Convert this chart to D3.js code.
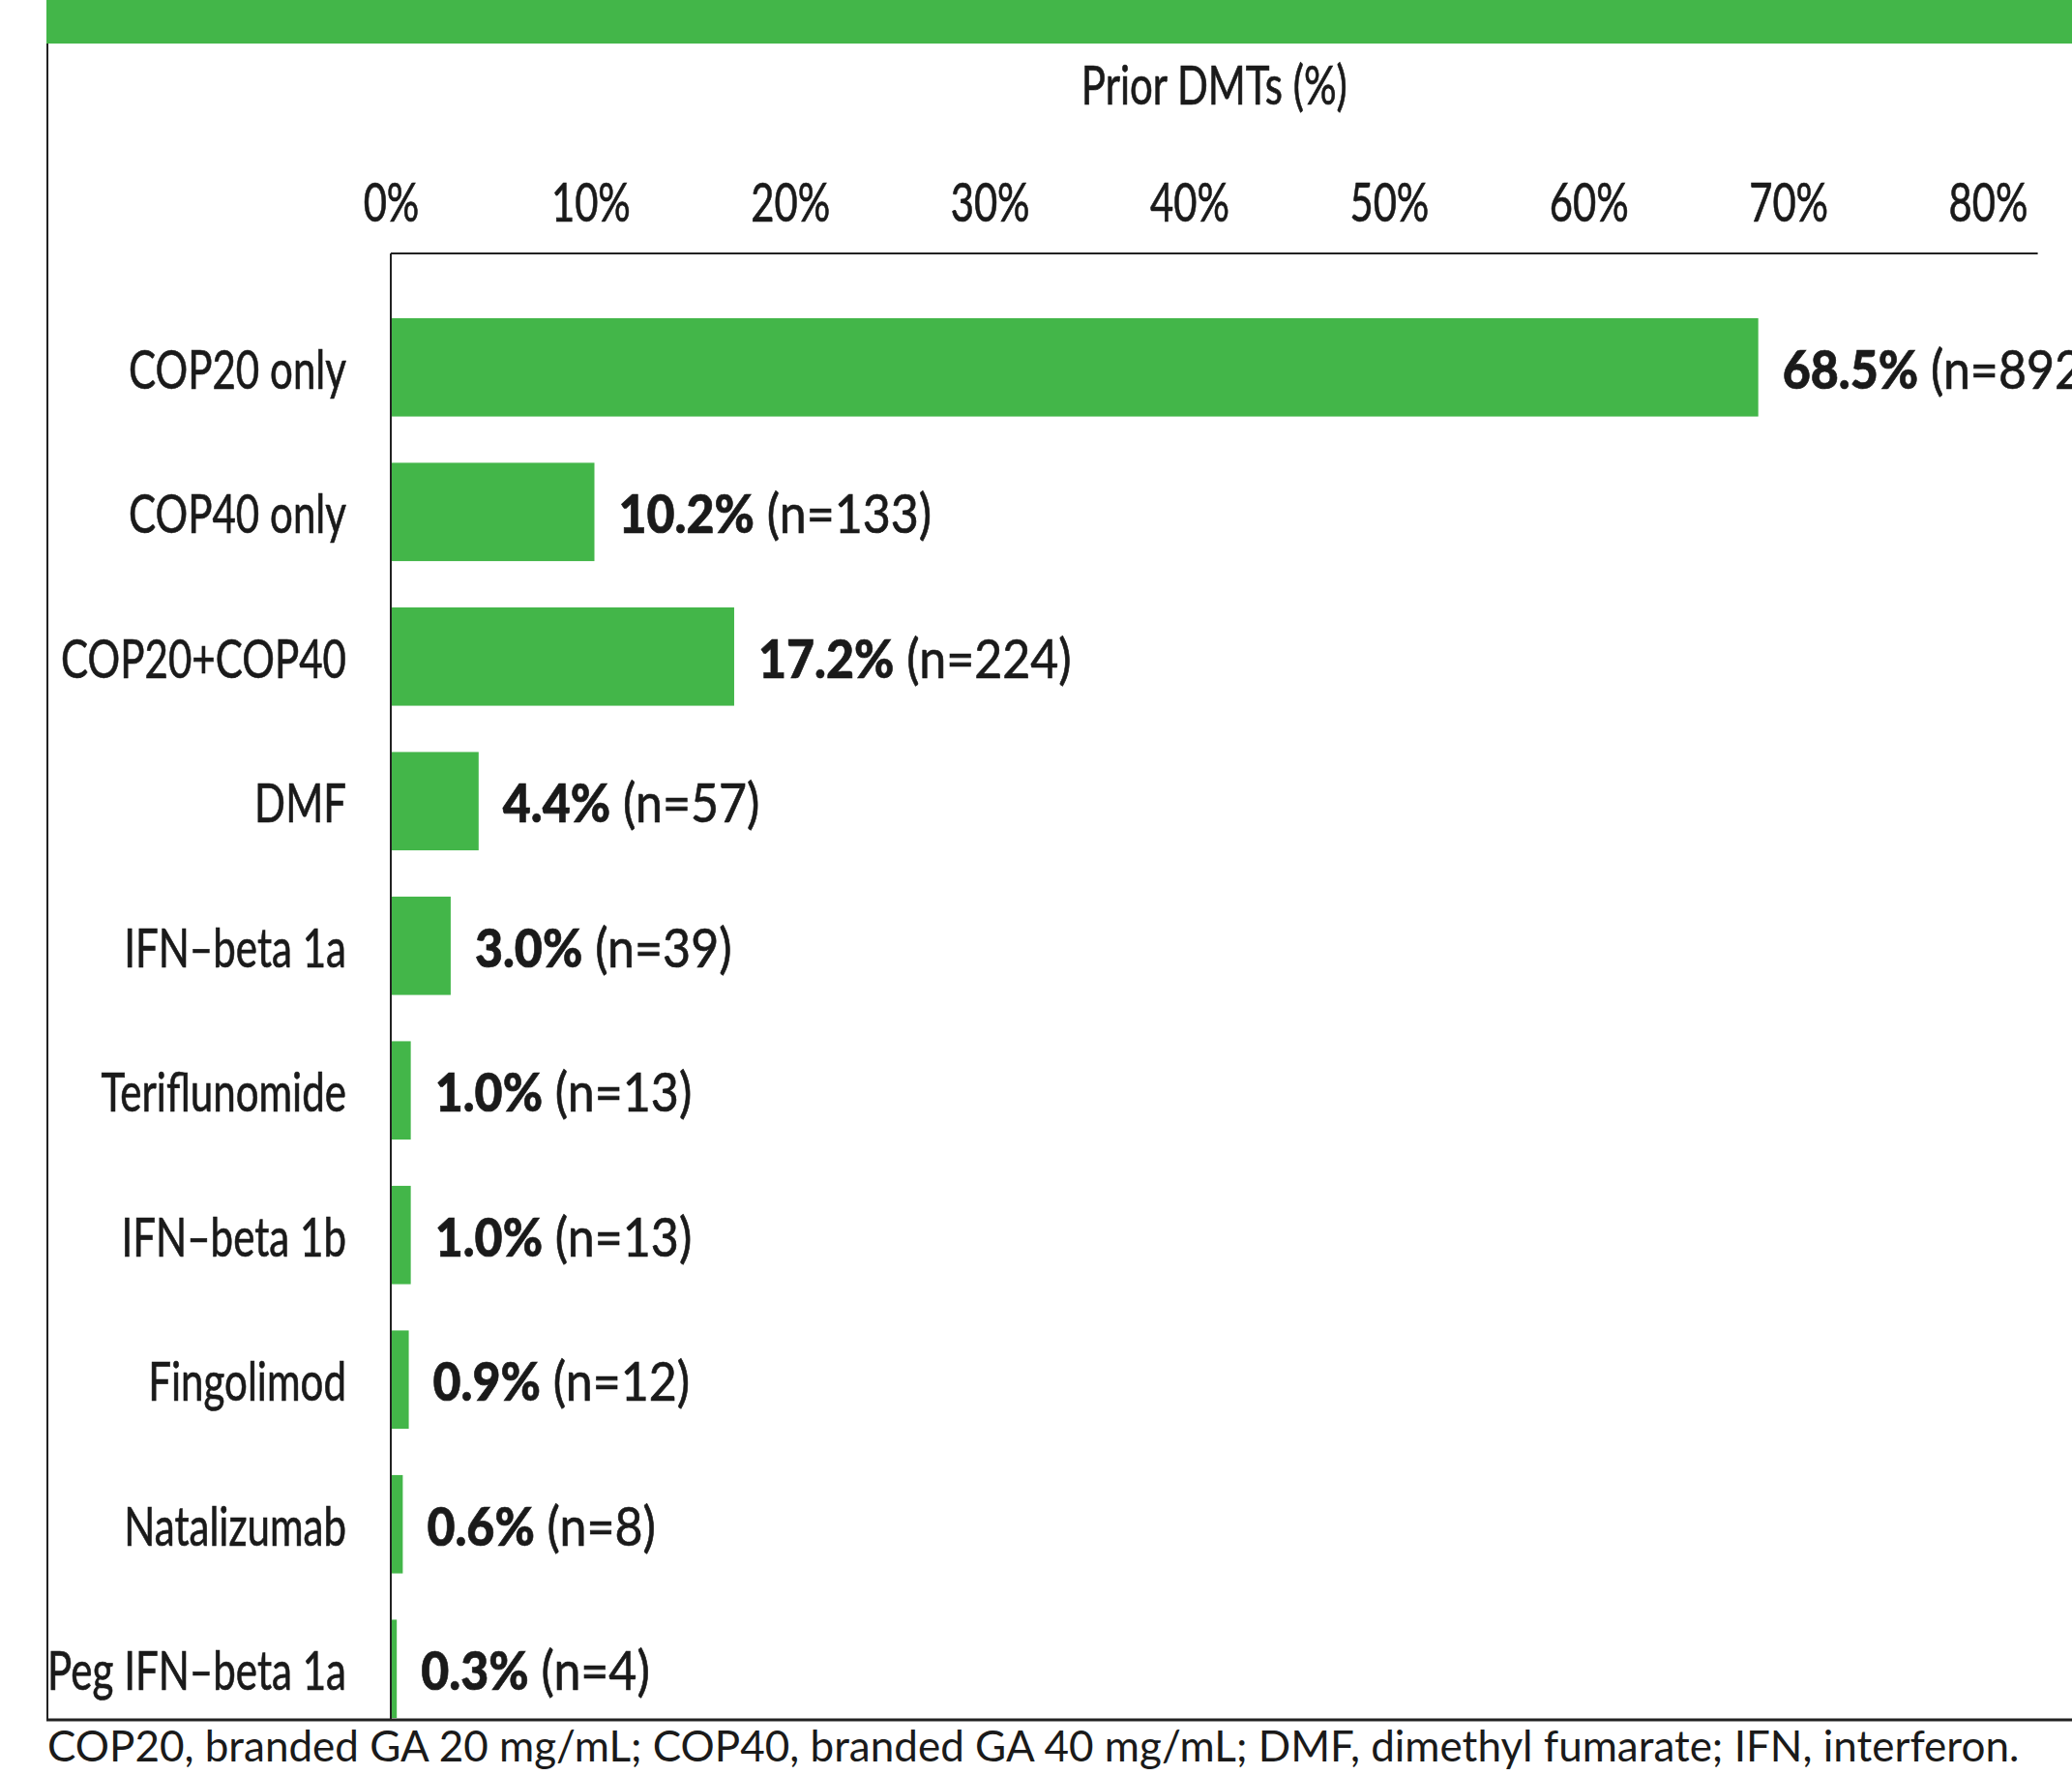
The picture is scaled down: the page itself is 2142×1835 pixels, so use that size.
<!DOCTYPE html>
<html>
<head>
<meta charset="utf-8">
<script src="https://cdn.jsdelivr.net/npm/d3@7"></script>
<style>
  body { margin: 0; background: #fff; }
  svg { display: block; }
  text { fill: #1a1a1a; }
  .thick { stroke: #1a1a1a; stroke-width: 0.7px; }
</style>
</head>
<body>
<svg id="chart" width="2142" height="1835"></svg>
<script>
// data
let categories = ['COP20 only', 'COP40 only', 'COP20+COP40', 'DMF', 'IFN\u2013beta 1a',
                  'Teriflunomide', 'IFN\u2013beta 1b', 'Fingolimod', 'Natalizumab', 'Peg IFN\u2013beta 1a'];
let pctValues = [68.5, 10.2, 17.2, 4.4, 3.0, 1.0, 1.0, 0.9, 0.6, 0.3];
let nValues = [892, 133, 224, 57, 39, 13, 13, 12, 8, 4];
let tickValues = [0, 10, 20, 30, 40, 50, 60, 70, 80];
let axisTitle = 'Prior DMTs (%)';
let footnote = 'COP20, branded GA 20 mg/mL; COP40, branded GA 40 mg/mL; DMF, dimethyl fumarate; IFN, interferon.';

let green = '#43b649';
let font = 'Lato, "Noto Sans", sans-serif';

let svg = d3.select('#chart');
let width = 2142;

// layout
let axisY = 262;
let bottomY = 1778;
let frameX = 49;

// measure a string so the text can be squeezed to look like a condensed face
function measure(str, size, weight){
    let t = svg.append('text')
        .style('font-family', font)
        .style('font-size', size + 'px')
        .style('font-weight', weight || 'normal')
        .text(str);
    let w = t.node().getComputedTextLength();
    t.remove();
    return w;
}
// squeeze so the longest and the densest label both land near the picture's widths
let sxCat = (299 + 305) / (measure('COP20+COP40', 57) + measure('Peg IFN\u2013beta 1a', 57));
let sxTitle = 275 / measure(axisTitle, 56);
let sxTick = 82 / measure('10%', 56);
let sxVal = 311 / (measure('17.2%', 56, 900) + measure(' (n=224)', 56));

// scales
let xScale = d3.scaleLinear()
                .domain([0, 80])
                .range([404, 2055]);
let xEnd = 82.5; // axis line runs a bit past 80%
let yScale = d3.scaleBand()
                .domain(categories)
                .range([305, 1800])
                .paddingInner(0.32)
                .paddingOuter(0.16);

// green band on top
svg.append('rect')
    .attr('x', frameX - 1)
    .attr('y', 0)
    .attr('width', width - frameX + 1)
    .attr('height', 45)
    .attr('fill', green);

// outer frame: left and bottom
svg.append('line')
    .attr('x1', frameX).attr('x2', frameX)
    .attr('y1', 45).attr('y2', bottomY + 1)
    .attr('stroke', '#222').attr('stroke-width', 2);
svg.append('line')
    .attr('x1', frameX - 1).attr('x2', width)
    .attr('y1', bottomY).attr('y2', bottomY)
    .attr('stroke', '#222').attr('stroke-width', 3);

// axis title
svg.append('text')
    .attr('class', 'thick')
    .attr('transform', 'translate(' + (xScale(0) + xScale(xEnd)) / 2 + ',108) scale(' + sxTitle + ',1)')
    .attr('text-anchor', 'middle')
    .style('font-family', font)
    .style('font-size', '56px')
    .text(axisTitle);

// top axis
let xAxis = d3.axisTop(xScale)
                .tickValues(tickValues)
                .tickSize(0)
                .tickPadding(0)
                .tickFormat(d => d + '%');
let axisGrp = svg.append('g')
    .attr('class', 'xAxis')
    .attr('transform', 'translate(0,' + axisY + ')')
    .call(xAxis);
axisGrp.select('.domain').remove();
axisGrp.selectAll('text')
    .attr('class', 'thick')
    .attr('y', 0)
    .attr('dy', 0)
    .attr('transform', 'translate(0,' + (229 - axisY) + ') scale(' + sxTick + ',1)')
    .style('font-family', font)
    .style('font-size', '56px')
    .attr('fill', '#1a1a1a');

svg.append('line')
    .attr('x1', xScale(0)).attr('x2', xScale(xEnd))
    .attr('y1', axisY).attr('y2', axisY)
    .attr('stroke', '#222').attr('stroke-width', 2);

// bars
let rows = categories.map((c, i) => ({cat: c, pct: pctValues[i], n: nValues[i]}));
svg.append('g')
    .attr('class', 'barGrp')
    .selectAll('rect')
    .data(rows)
    .enter()
    .append('rect')
    .attr('x', xScale(0))
    .attr('y', d => yScale(d.cat))
    .attr('width', d => xScale(d.pct) - xScale(0))
    .attr('height', yScale.bandwidth())
    .attr('fill', green);

// vertical axis line
svg.append('line')
    .attr('x1', xScale(0)).attr('x2', xScale(0))
    .attr('y1', axisY).attr('y2', bottomY)
    .attr('stroke', '#222').attr('stroke-width', 2);

// category labels
svg.append('g')
    .attr('class', 'catGrp')
    .selectAll('text')
    .data(rows)
    .enter()
    .append('text')
    .attr('class', 'thick')
    .attr('transform', d => 'translate(358,' + (yScale(d.cat) + yScale.bandwidth() / 2 + 22) + ') scale(' + sxCat + ',1)')
    .attr('text-anchor', 'end')
    .style('font-family', font)
    .style('font-size', '57px')
    .text(d => d.cat);

// value labels
let valText = svg.append('g')
    .attr('class', 'valGrp')
    .selectAll('text')
    .data(rows)
    .enter()
    .append('text')
    .attr('class', 'thick')
    .attr('transform', d => 'translate(' + (xScale(d.pct) + 25) + ',' + (yScale(d.cat) + yScale.bandwidth() / 2 + 22) + ') scale(' + sxVal + ',1)')
    .style('font-family', font)
    .style('font-size', '56px');
valText.append('tspan')
    .style('font-weight', 900)
    .text(d => d.pct.toFixed(1) + '%');
valText.append('tspan')
    .text(d => ' (n=' + d.n + ')');

// footnote
svg.append('text')
    .attr('x', frameX)
    .attr('y', 1821)
    .style('font-family', font)
    .style('font-size', '44px')
    .text(footnote);
</script>
</body>
</html>
